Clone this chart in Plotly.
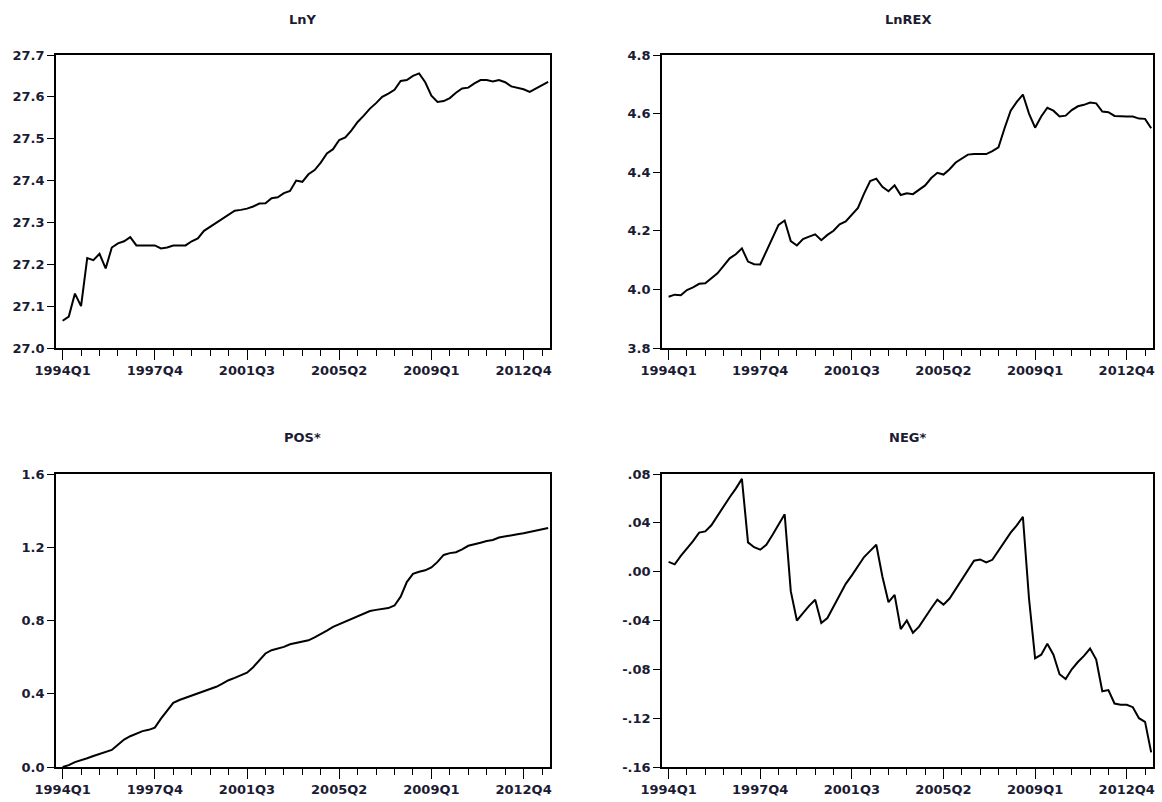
import plotly.graph_objects as go

# ---------------- data (quarterly, 1994Q1 .. 2013Q4) ----------------
quarters = [f"{y}Q{q}" for y in range(1994, 2014) for q in range(1, 5)]

lny = [27.065, 27.075, 27.13, 27.10, 27.215, 27.21, 27.225, 27.19, 27.24, 27.25,
       27.255, 27.265, 27.245, 27.245, 27.245, 27.245, 27.238, 27.24, 27.245, 27.245,
       27.245, 27.255, 27.262, 27.28, 27.29, 27.298, 27.31, 27.32, 27.328, 27.33,
       27.333, 27.338, 27.345, 27.346, 27.358, 27.36, 27.37, 27.375, 27.40, 27.397,
       27.415, 27.425, 27.443, 27.465, 27.475, 27.497, 27.503, 27.52, 27.54, 27.555,
       27.572, 27.585, 27.60, 27.608, 27.617, 27.638, 27.64, 27.65, 27.656, 27.635,
       27.603, 27.588, 27.59, 27.597, 27.61, 27.62, 27.622, 27.632, 27.64, 27.64,
       27.637, 27.64, 27.635, 27.625, 27.622, 27.618, 27.612, 27.62, 27.63, 27.636]

lnrex = [3.975, 3.982, 3.98, 3.998, 4.007, 4.019, 4.021, 4.038, 4.055, 4.08,
         4.106, 4.12, 4.14, 4.095, 4.086, 4.085, 4.13, 4.18, 4.22, 4.235,
         4.165, 4.15, 4.172, 4.18, 4.188, 4.168, 4.186, 4.20, 4.222, 4.232,
         4.255, 4.278, 4.327, 4.37, 4.378, 4.35, 4.335, 4.355, 4.322, 4.328,
         4.325, 4.34, 4.355, 4.38, 4.398, 4.392, 4.41, 4.433, 4.447, 4.46,
         4.462, 4.462, 4.462, 4.472, 4.485, 4.55, 4.61, 4.64, 4.665, 4.60,
         4.552, 4.59, 4.62, 4.61, 4.59, 4.593, 4.612, 4.625, 4.63, 4.638,
         4.635, 4.607, 4.605, 4.592, 4.59, 4.59, 4.59, 4.583, 4.582, 4.55]

pos = [0.0, 0.01, 0.027, 0.036, 0.048, 0.06, 0.07, 0.08, 0.093, 0.122,
       0.15, 0.168, 0.182, 0.196, 0.203, 0.215, 0.264, 0.305, 0.35, 0.366,
       0.378, 0.39, 0.405, 0.418, 0.428, 0.438, 0.455, 0.474, 0.487, 0.50,
       0.515, 0.545, 0.582, 0.62, 0.638, 0.645, 0.656, 0.67, 0.678, 0.683,
       0.692, 0.708, 0.725, 0.745, 0.765, 0.78, 0.792, 0.808, 0.825, 0.84,
       0.852, 0.858, 0.864, 0.868, 0.882, 0.93, 1.01, 1.055, 1.066, 1.074,
       1.09, 1.12, 1.158, 1.168, 1.173, 1.188, 1.208, 1.215, 1.225, 1.234,
       1.24, 1.253, 1.26, 1.266, 1.271, 1.276, 1.284, 1.292, 1.298, 1.305]

neg = [0.008, 0.006, 0.013, 0.019, 0.025, 0.032, 0.033, 0.038, 0.046, 0.053,
       0.061, 0.068, 0.076, 0.024, 0.02, 0.018, 0.022, 0.03, 0.038, 0.047,
       -0.016, -0.04, -0.034, -0.028, -0.023, -0.042, -0.038, -0.029, -0.02, -0.01,
       -0.003, 0.004, 0.012, 0.017, 0.022, -0.004, -0.025, -0.019, -0.047, -0.04,
       -0.05, -0.045, -0.037, -0.03, -0.023, -0.027, -0.022, -0.014, -0.006, 0.002,
       0.009, 0.01, 0.0075, 0.0097, 0.017, 0.025, 0.032, 0.038, 0.045, -0.022,
       -0.071, -0.068, -0.059, -0.068, -0.084, -0.088, -0.08, -0.074, -0.069, -0.063,
       -0.072, -0.098, -0.097, -0.108, -0.109, -0.109, -0.111, -0.12, -0.123, -0.148]

titles = ["LnY", "LnREX", "POS*", "NEG*"]

lny_ticks = [27.0, 27.1, 27.2, 27.3, 27.4, 27.5, 27.6, 27.7]
lny_text = ["27.0", "27.1", "27.2", "27.3", "27.4", "27.5", "27.6", "27.7"]
lnrex_ticks = [3.8, 4.0, 4.2, 4.4, 4.6, 4.8]
lnrex_text = ["3.8", "4.0", "4.2", "4.4", "4.6", "4.8"]
pos_ticks = [0.0, 0.4, 0.8, 1.2, 1.6]
pos_text = ["0.0", "0.4", "0.8", "1.2", "1.6"]
neg_ticks = [-0.16, -0.12, -0.08, -0.04, 0.0, 0.04, 0.08]
neg_text = ["-.16", "-.12", "-.08", "-.04", ".00", ".04", ".08"]

# ---------------- figure ----------------
W, H = 1162, 802
xidx = list(range(len(quarters)))
major_vals = xidx[::15]
major_text = [quarters[i] for i in major_vals]
minor_vals = xidx[::3]

# panel frames in pixels (left, right, top, bottom)
panels = [
    (56, 550, 55, 348),
    (662, 1153, 55, 348),
    (56, 550, 474, 767),
    (662, 1153, 474, 767),
]
series = [lny, lnrex, pos, neg]
yranges = [(27.0, 27.7), (3.8, 4.8), (0.0, 1.6), (-0.16, 0.08)]
yticks = [(lny_ticks, lny_text), (lnrex_ticks, lnrex_text),
          (pos_ticks, pos_text), (neg_ticks, neg_text)]

FONT = "DejaVu Sans, Verdana, sans-serif"
tickfont = dict(family=FONT, size=13, color="#1b1b33", weight="bold")

fig = go.Figure()
layout = dict(width=W, height=H, margin=dict(l=0, r=0, t=0, b=0, pad=0),
              paper_bgcolor="white", plot_bgcolor="white", showlegend=False,
              annotations=[])

for k in range(4):
    l, r, t, b = panels[k]
    xa = "x" if k == 0 else f"x{k+1}"
    ya = "y" if k == 0 else f"y{k+1}"
    fig.add_trace(go.Scatter(x=xidx, y=series[k], mode="lines",
                             line=dict(color="black", width=2),
                             xaxis=xa, yaxis=ya, hoverinfo="skip"))
    xkey = "xaxis" if k == 0 else f"xaxis{k+1}"
    ykey = "yaxis" if k == 0 else f"yaxis{k+1}"
    layout[xkey] = dict(
        domain=[l / W, r / W], anchor=ya, range=[-1.08, 79.3],
        automargin=False,
        showgrid=False, zeroline=False, showline=True, linecolor="black",
        linewidth=1.6, mirror=True, ticks="outside", ticklen=10, tickwidth=1.4,
        tickcolor="black", tickmode="array", tickvals=major_vals,
        ticktext=major_text, tickfont=tickfont,
        minor=dict(tickmode="array", tickvals=minor_vals, ticks="outside",
                   ticklen=6, tickwidth=1.4, tickcolor="black", showgrid=False),
    )
    yt, ytxt = yticks[k]
    layout[ykey] = dict(
        domain=[1 - b / H, 1 - t / H], anchor=xa, range=list(yranges[k]),
        automargin=False,
        showgrid=False, zeroline=False, showline=True, linecolor="black",
        linewidth=1.6, mirror=True, ticks="outside", ticklen=7, tickwidth=1.4,
        tickcolor="black", tickmode="array", tickvals=yt, ticktext=ytxt,
        tickfont=tickfont,
    )
    ty = 19 if k < 2 else 438
    layout["annotations"].append(dict(
        text=titles[k], x=(l + r) / 2 / W, y=1 - ty / H, xref="paper",
        yref="paper", xanchor="center", yanchor="middle", showarrow=False,
        font=dict(family=FONT, size=13, color="#1b1b33", weight="bold")))

fig.update_layout(**layout)
fig.write_html(
    "out.html",
    post_script="document.body.style.margin='0';document.body.style.padding='0';",
)
